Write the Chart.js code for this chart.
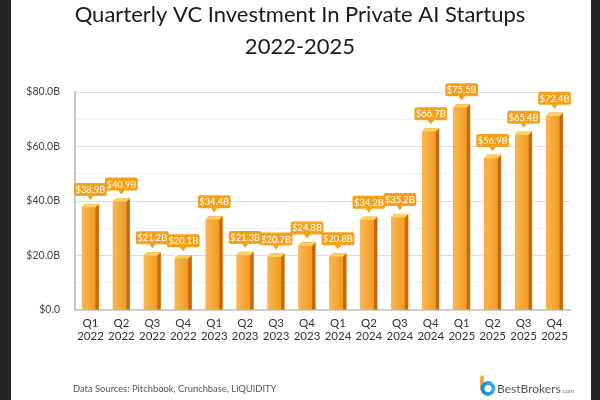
<!DOCTYPE html>
<html>
<head>
<meta charset="utf-8">
<script src="https://cdn.jsdelivr.net/npm/chart.js@4.4.1/dist/chart.umd.min.js"></script>
<style>
  html, body { margin: 0; padding: 0; background: #222; }
  #c { display: block; }
</style>
</head>
<body>
<canvas id="c" width="600" height="400"></canvas>
<script>
// ---- Data ----
const titleLines = ["Quarterly VC Investment In Private AI Startups", "2022-2025"];
const categories = [
  ["Q1","2022"],["Q2","2022"],["Q3","2022"],["Q4","2022"],
  ["Q1","2023"],["Q2","2023"],["Q3","2023"],["Q4","2023"],
  ["Q1","2024"],["Q2","2024"],["Q3","2024"],["Q4","2024"],
  ["Q1","2025"],["Q2","2025"],["Q3","2025"],["Q4","2025"]
];
const investmentBillions = [38.9, 40.9, 21.2, 20.1, 34.4, 21.3, 20.7, 24.8, 20.8, 34.2, 35.2, 66.7, 75.5, 56.9, 65.4, 72.4];
const valueLabels = ["$38.9B","$40.9B","$21.2B","$20.1B","$34.4B","$21.3B","$20.7B","$24.8B","$20.8B","$34.2B","$35.2B","$66.7B","$75.5B","$56.9B","$65.4B","$72.4B"];
const yTickLabels = ["$0.0", "$20.0B", "$40.0B", "$60.0B", "$80.0B"];
const sourceNote = "Data Sources: Pitchbook, Crunchbase, LiQUIDITY";
const brandName = "BestBrokers";
const brandSuffix = ".com";

const FONT = "Lato, 'Noto Sans', sans-serif";

// ---- Plugins ----
const backgroundPlugin = {
  id: 'bg',
  beforeDraw(chart) {
    const ctx = chart.ctx;
    ctx.save();
    ctx.fillStyle = '#232323';
    ctx.fillRect(0, 0, chart.width, chart.height);
    ctx.fillStyle = '#ffffff';
    ctx.fillRect(11, 0, 580, chart.height);
    ctx.restore();
  }
};

const titlePlugin = {
  id: 'titleText',
  afterDraw(chart) {
    const ctx = chart.ctx;
    ctx.save();
    ctx.fillStyle = '#1a1a1a';
    ctx.textAlign = 'center';
    ctx.textBaseline = 'alphabetic';
    ctx.font = "22px " + FONT;
    ctx.fillText(titleLines[0], 300, 21.5);
    ctx.fillText(titleLines[1], 300, 53.5);
    // footer
    ctx.textAlign = 'left';
    ctx.fillStyle = '#555';
    ctx.font = "9.4px " + FONT;
    ctx.fillText(sourceNote, 73, 392);
    // logo icon
    const g1 = ctx.createLinearGradient(0, 375, 0, 395);
    g1.addColorStop(0, '#F7A823'); g1.addColorStop(1, '#F0842A');
    ctx.strokeStyle = g1; ctx.lineWidth = 3.5; ctx.lineCap = 'round';
    ctx.beginPath(); ctx.moveTo(482, 377); ctx.lineTo(482, 389); ctx.stroke();
    const g2 = ctx.createLinearGradient(482, 0, 495, 0);
    g2.addColorStop(0, '#1E88C8'); g2.addColorStop(1, '#39B3E6');
    ctx.strokeStyle = g2; ctx.lineWidth = 3.8;
    ctx.beginPath(); ctx.arc(488, 388.5, 5.5, Math.PI * 0.95, Math.PI * 2.9, false); ctx.stroke();
    ctx.fillStyle = '#555';
    ctx.font = "12px " + FONT;
    ctx.fillText(brandName, 497, 393);
    const w = ctx.measureText(brandName).width;
    ctx.font = "6px " + FONT;
    ctx.fillStyle = '#777';
    ctx.fillText(brandSuffix, 497 + w + 1, 393);
    ctx.restore();
  }
};

const bar3dPlugin = {
  id: 'bar3d',
  afterDatasetsDraw(chart) {
    const ctx = chart.ctx;
    const meta = chart.getDatasetMeta(0);
    ctx.save();
    const pts = meta.data.map(bar => bar.getProps(['x', 'y', 'base', 'width'], true));
    pts.forEach((p) => {
      const L = p.x - p.width / 2, R = p.x + p.width / 2, d = 3.3, y = p.y, b = p.base;
      ctx.fillStyle = '#ffffff';
      ctx.beginPath(); ctx.moveTo(L - 0.5, y - 0.5); ctx.lineTo(L + d, y - 0.5); ctx.lineTo(L - 0.5, y + d); ctx.closePath(); ctx.fill();
      const g = ctx.createLinearGradient(L, 0, R - d, 0);
      g.addColorStop(0, '#F9B650'); g.addColorStop(1, '#F29B22');
      ctx.fillStyle = g;
      ctx.fillRect(L, y + d, R - d - L, b - y - d);
      ctx.fillStyle = '#C7680F';
      ctx.beginPath(); ctx.moveTo(R - d, y + d); ctx.lineTo(R, y); ctx.lineTo(R, b); ctx.lineTo(R - d, b); ctx.closePath(); ctx.fill();
      ctx.fillStyle = '#FBD262';
      ctx.beginPath(); ctx.moveTo(L, y + d); ctx.lineTo(L + d, y); ctx.lineTo(R, y); ctx.lineTo(R - d, y + d); ctx.closePath(); ctx.fill();
    });
    // value callouts in a second pass
    pts.forEach((p, i) => {
      const y = p.y;
      const txt = valueLabels[i];
      ctx.font = "9.3px " + FONT;
      const tw = ctx.measureText(txt).width;
      const bw = tw + 3, bh = 13;
      const bx = p.x - bw / 2, by = y - 21;
      ctx.fillStyle = '#F4A11C';
      ctx.beginPath();
      if (ctx.roundRect) ctx.roundRect(bx, by, bw, bh, 2); else ctx.rect(bx, by, bw, bh);
      ctx.fill();
      ctx.beginPath(); ctx.moveTo(p.x - 3.5, by + bh - 0.5); ctx.lineTo(p.x + 3.5, by + bh - 0.5); ctx.lineTo(p.x, y - 4); ctx.closePath(); ctx.fill();
      ctx.fillStyle = '#ffffff';
      ctx.textAlign = 'center'; ctx.textBaseline = 'middle';
      ctx.fillText(txt, p.x, by + bh / 2 + 0.5);
    });
    ctx.restore();
  }
};

new Chart(document.getElementById('c'), {
  type: 'bar',
  data: {
    labels: categories,
    datasets: [{
      data: investmentBillions,
      backgroundColor: '#F4A52D',
      borderWidth: 0,
      barThickness: 16.6
    }]
  },
  options: {
    responsive: false,
    animation: false,
    devicePixelRatio: 1,
    layout: { padding: { top: 92, right: 30, left: 0, bottom: 0 } },
    plugins: { legend: { display: false }, tooltip: { enabled: false }, title: { display: false } },
    scales: {
      x: {
        grid: { display: false, drawTicks: false },
        border: { color: '#c8c8c8', width: 1.5 },
        ticks: { color: '#333', font: { family: FONT, size: 11.5, lineHeight: 1.1 }, padding: 7, maxRotation: 0, autoSkip: false },
        afterFit(scale) { scale.height = 90; }
      },
      y: {
        min: 0, max: 80,
        grid: {
          drawTicks: false,
          color: (c) => (c.tick && c.tick.value % 20 === 0) ? '#dddddd' : '#f0f0f0',
          lineWidth: 1
        },
        border: { color: '#c8c8c8', width: 2 },
        ticks: {
          stepSize: 10,
          padding: 15,
          color: '#444',
          font: { family: FONT, size: 10.5 },
          callback: (v) => (v % 20 === 0) ? yTickLabels[v / 20] : ''
        },
        afterFit(scale) { scale.width = 75; }
      }
    }
  },
  plugins: [backgroundPlugin, bar3dPlugin, titlePlugin]
});
</script>
</body>
</html>
